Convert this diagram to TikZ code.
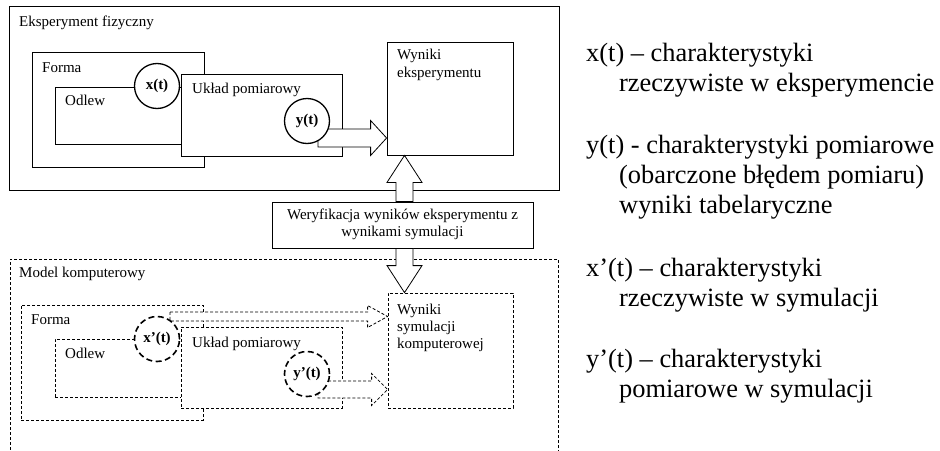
\documentclass[tikz,border=0pt]{standalone}
\usepackage{fontspec}
\setmainfont{Liberation Serif}
\usetikzlibrary{calc, fit}

\begin{document}
\begin{tikzpicture}[x=1pt, y=-1pt, font=\fontsize{15}{17}\selectfont,
  box/.style={draw, line width=0.8pt, inner sep=0pt, fill=white},
  dbox/.style={box, dash pattern=on 3pt off 2pt},
  sig/.style={circle, draw, fill=white, line width=1.3pt, minimum size=45pt,
              inner sep=0pt, font=\fontsize{15}{17}\selectfont\bfseries},
  dsig/.style={sig, dash pattern=on 6pt off 3.5pt, line width=1.6pt},
  barrow/.style={draw, fill=white, line width=0.8pt},
  dbarrow/.style={barrow, dash pattern=on 3pt off 2pt},
  txt/.style={anchor=base west, inner sep=0pt, align=left},
  legend/.style={txt, font=\fontsize{26.4}{30}\selectfont}]
  \useasboundingbox (0,0) rectangle (940,450);
  \clip (0,0) rectangle (940,450);

  % --- physical experiment ---
  % (multi-line labels sit on the baseline of their last line)
  \node[box, fit={(9,6) (559,190)}] (exp) {};
  \node[txt] (expT) at (19,26) {Eksperyment fizyczny};
  \node[box, fit={(32,52) (204,167)}] (formaE) {};
  \node[txt] (formaET) at (42,72) {Forma};
  \node[box, fit={(55,87) (181,144)}] (odlewE) {};
  \node[txt] (odlewET) at (65,105) {Odlew};
  \node[box, fit={(181,74) (342,156)}] (ukladE) {};
  \node[txt] (ukladET) at (192,93) {Układ pomiarowy};
  \node[box, fit={(387,42) (513,155)}] (wynE) {};
  \node[txt, font=\fontsize{15}{18}\selectfont] (wynET) at (397,77) {Wyniki\\eksperymentu};

  % measured signal goes to the results
  \coordinate (ya) at (318,138);
  \draw[barrow] ([yshift=9pt]ya) -| ([xshift=-16pt,yshift=17.5pt]wynE.west |- ya)
    -- (wynE.west |- ya) -- ([xshift=-16pt,yshift=-17.5pt]wynE.west |- ya)
    |- ([yshift=-9pt]ya) -- cycle;
  \node[sig] (xt) at (157,86) {x(t)};
  \node[sig] (yt) at (307,121) {y(t)};

  % --- computer model (bottom edge runs off the page) ---
  \node[dbox, fit={(10,259) (558,470)}] (model) {};
  \node[txt] (modelT) at (19,277) {Model komputerowy};

  % verification between both halves
  \node[box, fit={(272,202) (533,248)}] (wer) {};
  \node[align=center, inner sep=0pt] (werT) at ([yshift=1pt]wer.center)
    {Weryfikacja wyników eksperymentu z\\wynikami symulacji};
  \coordinate (ax) at (404.5,0);
  \draw[barrow] ([xshift=-8.5pt]ax |- wer.north) |- ([xshift=-17.5pt,yshift=-27pt]ax |- wynE.south)
    -- (ax |- wynE.south) -- ([xshift=17.5pt,yshift=-27pt]ax |- wynE.south)
    -| ([xshift=8.5pt]ax |- wer.north) -- cycle;

  \node[dbox, fit={(21,305) (203,420)}] (formaS) {};
  \node[txt] (formaST) at (31,324) {Forma};
  \node[dbox, fit={(55,339) (181,397)}] (odlewS) {};
  \node[txt] (odlewST) at (65,358) {Odlew};
  \node[dbox, fit={(181,327) (342,408)}] (ukladS) {};
  \node[txt] (ukladST) at (192,347) {Układ pomiarowy};
  \node[dbox, fit={(388,293) (513,408)}] (wynS) {};
  \node[txt] (wynST) at (397,348) {Wyniki\\symulacji\\komputerowej};

  \draw[barrow] ([xshift=-8.5pt]ax |- wer.south) |- ([xshift=-17.5pt,yshift=27pt]ax |- wynS.north)
    -- (ax |- wynS.north) -- ([xshift=17.5pt,yshift=27pt]ax |- wynS.north)
    -| ([xshift=8.5pt]ax |- wer.south) -- cycle;

  % simulated signals go to the simulation results
  \coordinate (xa) at (170,316.5);
  \draw[dbarrow] ([yshift=4.5pt]xa) -| ([xshift=-20pt,yshift=11pt]wynS.west |- xa)
    -- (wynS.west |- xa) -- ([xshift=-20pt,yshift=-11pt]wynS.west |- xa)
    |- ([yshift=-4.5pt]xa) -- cycle;
  \coordinate (yb) at (318,389.5);
  \draw[dbarrow] ([yshift=8.5pt]yb) -| ([xshift=-16pt,yshift=16pt]wynS.west |- yb)
    -- (wynS.west |- yb) -- ([xshift=-16pt,yshift=-16pt]wynS.west |- yb)
    |- ([yshift=-8.5pt]yb) -- cycle;
  \node[dsig] (xs) at (157,339) {x’(t)};
  \node[dsig] (ys) at (307,374) {y’(t)};

  % --- legend ---
  \node[legend] (lx) at (586,91) {x(t) – charakterystyki\\\hspace*{33pt}rzeczywiste w eksperymencie};
  \node[legend] (ly) at (586,213) {y(t) - charakterystyki pomiarowe\\\hspace*{33pt}(obarczone błędem pomiaru)\\\hspace*{33pt}wyniki tabelaryczne};
  \node[legend] (lxs) at (586,306) {x’(t) – charakterystyki\\\hspace*{33pt}rzeczywiste w symulacji};
  \node[legend] (lys) at (586,397) {y’(t) – charakterystyki\\\hspace*{33pt}pomiarowe w symulacji};
\end{tikzpicture}
\end{document}
